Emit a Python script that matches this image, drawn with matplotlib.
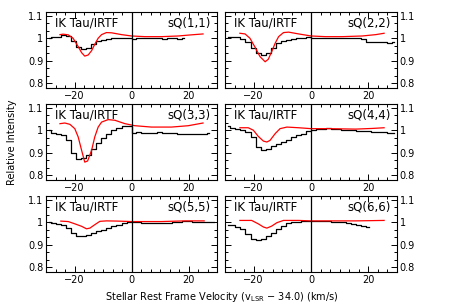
import matplotlib
matplotlib.use("Agg")
import matplotlib.pyplot as plt
from matplotlib.ticker import MultipleLocator, AutoMinorLocator, FuncFormatter

# ---- data ----
# channel centres (km/s) of the observed spectra
v_chan = [-29.0, -27.3, -25.5, -23.8, -22.0, -20.2, -18.5, -16.7, -15.0, -13.2,
          -11.4, -9.7, -7.9, -6.2, -4.4, -2.6, -0.9, 0.9, 2.6, 4.4,
          6.2, 7.9, 9.7, 11.4, 13.2, 15.0, 16.7, 18.5, 20.2, 22.0,
          23.8, 25.5, 27.3, 29.0]

obs_11 = [1.000, 1.004, 1.007, 1.013, 1.010, 0.990, 0.960, 0.951, 0.958, 0.975,
          0.988, 0.993, 0.996, 0.999, 1.000, 1.001, 0.999, 0.997, 0.999, 1.000,
          0.999, 1.000, 0.999, 0.997, 0.999, 0.999, 0.997, 0.999]
obs_22 = [1.007, 1.007, 1.004, 0.998, 0.982, 0.955, 0.933, 0.926, 0.936, 0.956,
          0.978, 0.988, 0.993, 0.996, 0.999, 1.001, 1.004, 1.001, 1.000, 1.000,
          1.000, 1.000, 1.000, 1.000, 1.000, 1.000, 1.000, 0.996, 0.985, 0.982,
          0.982, 0.982, 0.981, 0.985]
obs_33 = [1.000, 0.989, 0.985, 0.978, 0.955, 0.900, 0.875, 0.876, 0.890, 0.918,
          0.945, 0.965, 0.985, 1.000, 1.010, 1.018, 1.020, 0.990, 0.991, 0.990,
          0.989, 0.990, 0.991, 0.989, 0.988, 0.986, 0.985, 0.983, 0.982, 0.984,
          0.985, 0.985, 0.986]
obs_44 = [1.017, 1.011, 1.007, 1.003, 0.992, 0.970, 0.926, 0.914, 0.918, 0.929,
          0.940, 0.948, 0.958, 0.970, 0.977, 0.985, 0.997, 1.003, 1.005, 1.007,
          1.008, 1.007, 1.004, 1.003, 1.001, 1.000, 0.998, 0.997, 0.995, 0.994,
          0.992, 0.991, 0.989, 0.988]
obs_55 = [1.000, 0.998, 0.993, 0.989, 0.974, 0.954, 0.938, 0.938, 0.945, 0.953,
          0.960, 0.967, 0.974, 0.982, 0.989, 0.995, 0.999, 1.000, 0.999, 0.998,
          0.998, 0.998, 0.996, 0.996, 0.996, 0.999, 1.003, 1.005, 1.005, 1.003,
          1.002, 1.000, 1.000, 0.999]
obs_66 = [0.989, 0.986, 0.980, 0.971, 0.950, 0.928, 0.921, 0.928, 0.940, 0.954,
          0.969, 0.983, 0.995, 1.000, 1.003, 1.005, 1.006, 1.006, 1.006, 1.005,
          1.005, 1.003, 1.002, 0.999, 0.996, 0.992, 0.989, 0.983, 0.977]

# model curves (red)
mod_v_11 = [-25.1, -24.0, -22.2, -20.5, -18.7, -17.5, -16.4, -15.2, -14.0, -12.9,
            -11.7, -10.5, -8.8, -7.0, -3.5, 0.0, 4.7, 10.5, 16.4, 21.0, 25.1]
mod_11 = [1.016, 1.018, 1.015, 1.000, 0.963, 0.936, 0.921, 0.926, 0.945, 0.973,
          1.000, 1.016, 1.025, 1.024, 1.016, 1.010, 1.007, 1.007, 1.010, 1.015, 1.019]

mod_v_22 = [-24.8, -23.0, -21.3, -19.5, -17.8, -16.0, -14.9, -13.7, -12.5, -11.3,
            -9.6, -7.8, -4.3, 0.0, 5.0, 10.9, 17.9, 22.6, 25.5]
mod_22 = [1.022, 1.019, 1.000, 0.960, 0.919, 0.896, 0.907, 0.941, 0.978, 1.007,
          1.025, 1.027, 1.019, 1.010, 1.007, 1.007, 1.010, 1.016, 1.022]

mod_v_33 = [-25.1, -23.4, -21.6, -19.9, -18.7, -17.5, -16.4, -15.4, -14.0, -12.9,
            -11.7, -10.5, -8.2, -5.8, -2.3, 1.2, 7.0, 14.0, 19.9, 25.1]
mod_33 = [1.029, 1.032, 1.026, 1.007, 0.970, 0.911, 0.859, 0.864, 0.911, 0.970,
          1.014, 1.036, 1.047, 1.044, 1.029, 1.020, 1.014, 1.014, 1.020, 1.032]

mod_v_44 = [-24.8, -21.9, -20.1, -18.4, -16.6, -15.4, -14.3, -12.5, -10.8, -8.4,
            -4.3, 0.0, 6.2, 15.6, 21.4, 25.5]
mod_44 = [1.011, 1.011, 1.000, 0.973, 0.952, 0.948, 0.955, 0.985, 1.007, 1.014,
          1.011, 1.007, 1.007, 1.005, 1.008, 1.011]

mod_v_55 = [-24.8, -22.2, -19.9, -17.5, -15.8, -14.6, -12.9, -11.1, -8.8, -4.7,
            0.0, 10.5, 18.7, 25.5]
mod_55 = [1.005, 1.003, 0.993, 0.982, 0.971, 0.974, 0.989, 1.004, 1.006, 1.005,
          1.003, 1.003, 1.006, 1.006]

mod_v_66 = [-24.8, -20.7, -18.4, -16.6, -15.4, -13.7, -11.9, -9.6, -4.3, 0.0,
            15.6, 25.5]
mod_66 = [1.008, 1.008, 0.993, 0.979, 0.974, 0.983, 0.998, 1.008, 1.008, 1.006,
          1.006, 1.008]

lines = ["sQ(1,1)", "sQ(2,2)", "sQ(3,3)", "sQ(4,4)", "sQ(5,5)", "sQ(6,6)"]
obs = [obs_11, obs_22, obs_33, obs_44, obs_55, obs_66]
mod_v = [mod_v_11, mod_v_22, mod_v_33, mod_v_44, mod_v_55, mod_v_66]
mod = [mod_11, mod_22, mod_33, mod_44, mod_55, mod_66]

# ---- figure ----
W, H = 449, 308
fig = plt.figure(figsize=(W / 100, H / 100), dpi=100)
plt.rcParams['font.family'] = 'DejaVu Sans'

col_left = [46, 225]
col_w = [171, 172]
row_top = [12, 104, 196]
row_h = 76

fmt = FuncFormatter(lambda v, p: "%g" % round(v, 2))

for i in range(6):
    r, c = i // 2, i % 2
    ax = fig.add_axes([col_left[c] / W, 1 - (row_top[r] + row_h) / H,
                       col_w[c] / W, row_h / H])
    vals = obs[i]
    ax.step(v_chan[:len(vals)], vals, where='mid', color='black', lw=0.9)
    ax.plot(mod_v[i], mod[i], color='#ff0000', lw=0.9)
    ax.axvline(0, color='black', lw=0.9)
    ax.set_xlim(-30, 30)
    ax.set_ylim(0.78, 1.116)

    ax.xaxis.set_major_locator(MultipleLocator(20))
    ax.xaxis.set_minor_locator(AutoMinorLocator(6))
    ax.yaxis.set_major_locator(MultipleLocator(0.1))
    ax.yaxis.set_minor_locator(AutoMinorLocator(3))
    ax.yaxis.set_major_formatter(fmt)
    ax.tick_params(which='both', direction='in', top=True, right=True,
                   labelsize=7, pad=2, width=0.7)
    ax.tick_params(which='major', length=4)
    ax.tick_params(which='minor', length=2)
    if c == 1:
        ax.tick_params(labelleft=False, labelright=True)
    for s in ax.spines.values():
        s.set_linewidth(0.8)

    ax.text(0.05, 0.85, "IK Tau/IRTF", transform=ax.transAxes, fontsize=8.5,
            ha='left', va='center')
    ax.text(0.965, 0.85, lines[i], transform=ax.transAxes, fontsize=8.5,
            ha='right', va='center')

fig.text(12 / W, 1 - 142 / H, "Relative Intensity", rotation=90,
         ha='center', va='center', fontsize=7)
fig.text(222 / W, 1 - 297 / H,
         r"Stellar Rest Frame Velocity (v$_\mathregular{LSR}$ $-$ 34.0) (km/s)",
         ha='center', va='center', fontsize=7)

fig.savefig("out.png", dpi=100)
